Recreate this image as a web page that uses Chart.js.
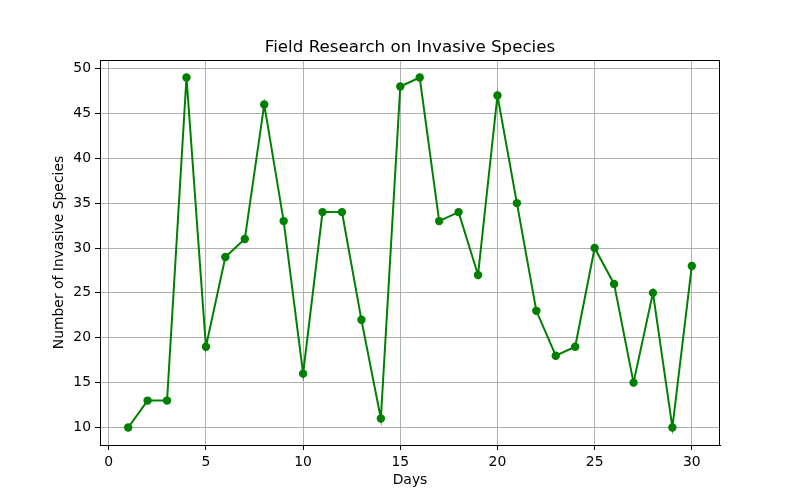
<!DOCTYPE html>
<html>
<head>
<meta charset="utf-8">
<script src="https://cdn.jsdelivr.net/npm/chart.js@4"></script>
<style>
  body { margin: 0; background: #fff; }
  canvas { display: block; }
</style>
</head>
<body>
<canvas id="chart" width="800" height="500"></canvas>
<script>
// Data
const days = [1, 2, 3, 4, 5, 6, 7, 8, 9, 10, 11, 12, 13, 14, 15,
              16, 17, 18, 19, 20, 21, 22, 23, 24, 25, 26, 27, 28, 29, 30];
const speciesCounts = [10, 13, 13, 49, 19, 29, 31, 46, 33, 16, 34, 34, 22, 11, 48,
                       49, 33, 34, 27, 47, 35, 23, 18, 19, 30, 26, 15, 25, 10, 28];
const xTicks = [0, 5, 10, 15, 20, 25, 30];
const yTicks = [10, 15, 20, 25, 30, 35, 40, 45, 50];

const FONT = "'DejaVu Sans', sans-serif";

// white background, axes box and the text labels
const decorations = {
  id: "decorations",
  beforeDraw(chart) {
    const ctx = chart.ctx;
    ctx.save();
    ctx.fillStyle = "#fff";
    ctx.fillRect(0, 0, chart.width, chart.height);
    ctx.restore();
  },
  afterDraw(chart) {
    const ctx = chart.ctx;
    const a = chart.chartArea;
    ctx.save();
    ctx.strokeStyle = "#000";
    ctx.lineWidth = 1;
    ctx.strokeRect(a.left + 0.5, a.top + 0.5, a.right - a.left - 1, a.bottom - a.top);
    ctx.fillStyle = "#000";
    ctx.textAlign = "center";
    ctx.font = "16.7px " + FONT;
    ctx.textBaseline = "alphabetic";
    ctx.fillText("Field Research on Invasive Species", (a.left + a.right) / 2, 52);
    ctx.font = "13.9px " + FONT;
    ctx.textBaseline = "middle";
    ctx.fillText("Days", (a.left + a.right) / 2, 480);
    ctx.translate(59, (a.top + a.bottom) / 2);
    ctx.rotate(-Math.PI / 2);
    ctx.fillText("Number of Invasive Species", 0, 0);
    ctx.restore();
  },
};

const axisStyle = {
  grid: { color: "#b0b0b0", lineWidth: 1, tickColor: "#000", tickLength: 5 },
  border: { color: "#000", width: 1 },
  ticks: { color: "#000", font: { family: FONT, size: 13.9 }, padding: 4, maxRotation: 0, autoSkip: false },
};

new Chart(document.getElementById("chart").getContext("2d"), {
  type: "line",
  data: {
    datasets: [
      {
        data: days.map((d, i) => ({ x: d, y: speciesCounts[i] })),
        borderColor: "#008000",
        backgroundColor: "#008000",
        borderWidth: 2,
        pointRadius: 4.2,
        pointBorderWidth: 0,
        tension: 0,
      },
    ],
  },
  options: {
    responsive: false,
    animation: false,
    layout: { padding: { top: 60, right: 80, left: 0, bottom: 0 } },
    plugins: { legend: { display: false }, tooltip: { enabled: false } },
    scales: {
      x: {
        type: "linear",
        min: -0.45,
        max: 31.45,
        ...axisStyle,
        afterBuildTicks: (s) => { s.ticks = xTicks.map((v) => ({ value: v })); },
        afterFit: (s) => { s.height = 55; },
      },
      y: {
        type: "linear",
        min: 8.05,
        max: 50.95,
        ...axisStyle,
        afterBuildTicks: (s) => { s.ticks = yTicks.map((v) => ({ value: v })); },
        afterFit: (s) => { s.width = 100; },
      },
    },
  },
  plugins: [decorations],
});
</script>
</body>
</html>
